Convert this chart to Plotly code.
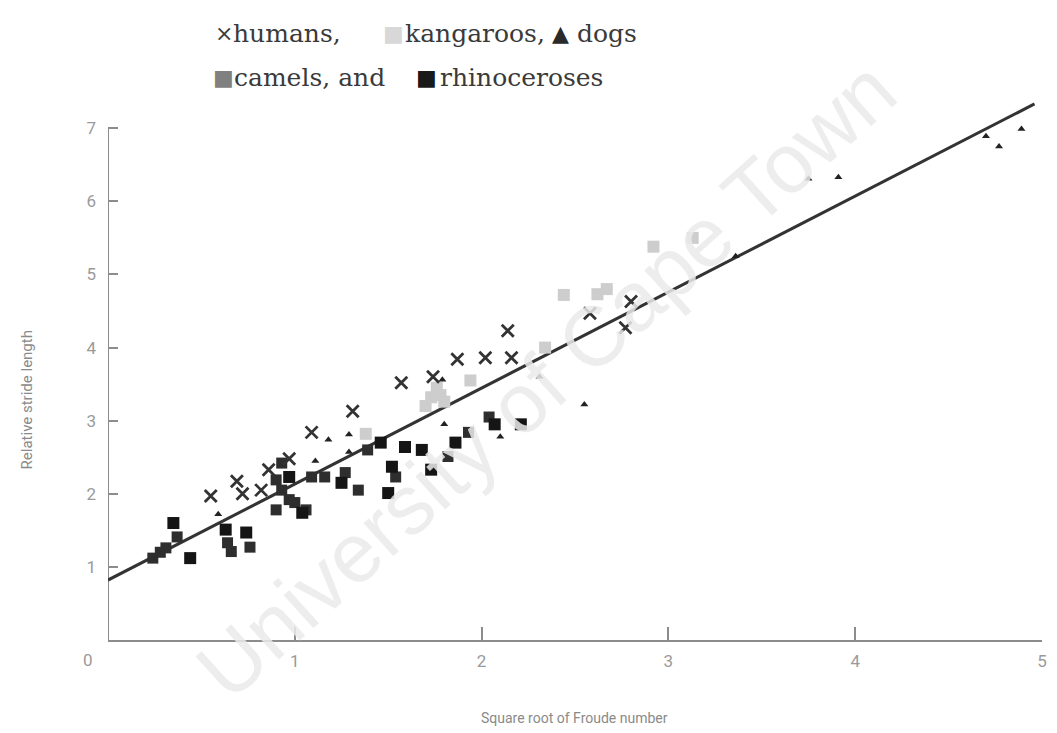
import plotly.graph_objects as go

# ---- data ----
humans_x = [0.55, 0.69, 0.72, 0.82, 0.86, 0.97, 1.09, 1.31, 1.57, 1.74, 1.87, 2.02, 2.16, 2.14, 2.58, 2.80, 2.77]
humans_y = [1.97, 2.17, 2.00, 2.05, 2.33, 2.48, 2.84, 3.13, 3.52, 3.60, 3.84, 3.86, 3.86, 4.23, 4.47, 4.63, 4.27]

kangaroos_x = [1.38, 1.70, 1.73, 1.78, 1.80, 1.76, 1.94, 2.34, 2.44, 2.62, 2.67, 2.92, 3.13]
kangaroos_y = [2.82, 3.20, 3.32, 3.35, 3.26, 3.45, 3.55, 4.00, 4.72, 4.73, 4.80, 5.38, 5.50]

dogs_x = [0.59, 1.11, 1.18, 1.29, 1.29, 1.79, 1.80, 2.10, 2.31, 2.55, 3.36, 3.75, 3.91, 4.70, 4.77, 4.89]
dogs_y = [1.72, 2.45, 2.74, 2.81, 2.57, 3.56, 2.95, 2.78, 3.60, 3.22, 5.25, 6.31, 6.33, 6.89, 6.75, 6.99]

camels_x = [0.24, 0.28, 0.31, 0.37, 0.64, 0.66, 0.76, 0.90, 0.93, 1.00, 0.93, 0.90, 0.97, 1.06, 1.09, 1.16,
            1.27, 1.34, 1.39, 1.54, 1.82, 1.93, 2.04]
camels_y = [1.12, 1.20, 1.26, 1.41, 1.33, 1.21, 1.27, 1.78, 2.05, 1.88, 2.42, 2.19, 1.92, 1.78, 2.23, 2.23,
            2.29, 2.05, 2.60, 2.23, 2.51, 2.84, 3.05]

rhinos_x = [0.35, 0.44, 0.63, 0.74, 1.04, 1.50, 1.52, 1.59, 1.73, 1.86, 2.07, 2.21, 0.97, 1.25, 1.46, 1.68]
rhinos_y = [1.60, 1.12, 1.51, 1.47, 1.74, 2.01, 2.37, 2.64, 2.33, 2.70, 2.95, 2.95, 2.23, 2.15, 2.70, 2.60]

fit_x = [0.0, 4.96]
fit_intercept = 0.82
fit_slope = 1.313

x_ticks = [1, 2, 3, 4, 5]
y_ticks = [1, 2, 3, 4, 5, 6, 7]

AX = "#8c8c8c"
SANS = "Roboto, Liberation Sans, sans-serif"
TICKFONT = dict(family=SANS, size=17, color="#9a9a9a")

fig = go.Figure()

fig.add_trace(go.Scatter(x=fit_x, y=[fit_intercept + fit_slope * v for v in fit_x], mode="lines",
                         line=dict(color="#333333", width=3), showlegend=False, hoverinfo="skip"))
fig.add_trace(go.Scatter(x=kangaroos_x, y=kangaroos_y, mode="markers", name="kangaroos",
                         marker=dict(symbol="square", size=12, color="#cdcdcd"), showlegend=False))
fig.add_trace(go.Scatter(x=camels_x, y=camels_y, mode="markers", name="camels",
                         marker=dict(symbol="square", size=11, color="#2e2e2e"), showlegend=False))
fig.add_trace(go.Scatter(x=rhinos_x, y=rhinos_y, mode="markers", name="rhinoceroses",
                         marker=dict(symbol="square", size=12, color="#151515"), showlegend=False))
fig.add_trace(go.Scatter(x=dogs_x, y=dogs_y, mode="markers", name="dogs",
                         marker=dict(symbol="triangle-up", size=7, color="#222222"), showlegend=False))
fig.add_trace(go.Scatter(x=humans_x, y=humans_y, mode="markers", name="humans",
                         marker=dict(symbol="x-thin", size=12, line=dict(width=2.8, color="#333333")),
                         showlegend=False))

# y axis line only up to 7
fig.add_shape(type="line", xref="x", yref="y", x0=0, x1=0, y0=0, y1=7,
              line=dict(color=AX, width=2), layer="below")

fig.update_xaxes(range=[0, 5.0], tickvals=x_ticks, ticks="inside", ticklen=13, tickwidth=2, tickcolor=AX,
                 showline=True, linecolor=AX, linewidth=2, showgrid=False, zeroline=False,
                 tickfont=TICKFONT, ticklabelstandoff=5)
fig.update_yaxes(range=[0, 7.4], tickvals=y_ticks, ticks="inside", ticklen=10, tickwidth=2, tickcolor=AX,
                 showline=False, showgrid=False, zeroline=False, tickfont=TICKFONT,
                 ticklabelstandoff=11)


def px(xp):
    return (xp - 108) / 939


def py(yp):
    return (640 - yp) / 541


ann = []
ann.append(dict(text="0", xref="paper", yref="paper", x=px(88), y=py(660), showarrow=False,
                xanchor="center", yanchor="middle", font=TICKFONT))
ann.append(dict(text="Relative stride length", xref="paper", yref="paper", x=px(27), y=py(400),
                xanchor="center", yanchor="middle",
                textangle=-90, showarrow=False, font=dict(family=SANS, size=15, color="#8a8a8a")))
ann.append(dict(text="Square root of Froude number", xref="paper", yref="paper", x=px(577), y=py(718),
                xanchor="center", yanchor="middle",
                showarrow=False, font=dict(family=SANS, size=14, color="#8a8a8a")))

SERIF = dict(family="DejaVu Serif, Liberation Serif, serif", size=25, color="#3a3a3a")
legend_items = [
    ("×", "#3a3a3a", 214, 33), ("humans,", None, 232, 33),
    ("■", "#d8d8d8", 382, 33), ("kangaroos,", None, 405, 33),
    ("▲", "#2a2a2a", 552, 33), ("dogs", None, 577, 33),
    ("■", "#808080", 212, 78), ("camels, and", None, 233, 78),
    ("■", "#1a1a1a", 416, 78), ("rhinoceroses", None, 440, 78),
]
for txt, col, xp, yp in legend_items:
    f = dict(SERIF)
    if col:
        f["color"] = col
        f["size"] = 22
    ann.append(dict(text=txt, xref="paper", yref="paper", x=px(xp), y=py(yp),
                    xanchor="left", yanchor="middle", showarrow=False, font=f))

ann.append(dict(text="University of Cape Town", xref="paper", yref="paper",
                x=px(548), y=py(380), xanchor="center", yanchor="middle",
                showarrow=False, textangle=-42,
                font=dict(family="Liberation Sans, sans-serif", size=84, color="rgba(234,234,234,0.85)")))

fig.update_layout(width=1057, height=733, margin=dict(l=108, r=10, t=99, b=93),
                  paper_bgcolor="white", plot_bgcolor="white", annotations=ann)

fig.write_html("out.html")
